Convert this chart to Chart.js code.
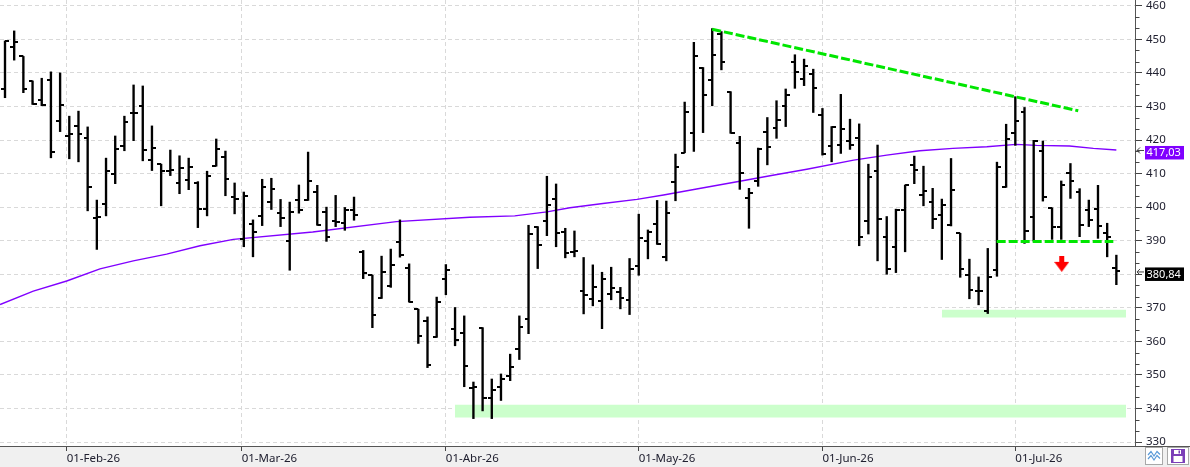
<!DOCTYPE html>
<html><head><meta charset="utf-8">
<script src="https://cdn.jsdelivr.net/npm/chart.js@4.4.1/dist/chart.umd.min.js"></script>
<style>html,body{margin:0;padding:0;background:#fff;overflow:hidden}canvas{display:block}</style>
</head><body>
<canvas id="c" width="1190" height="467"></canvas>
<script>
// ---- data (bar index = trading session) ----
const xTickPos = [6.72, 25.77, 48, 69, 89, 110];
const xTickLabels = ['01-Feb-26','01-Mar-26','01-Abr-26','01-May-26','01-Jun-26','01-Jul-26'];
const yTicks = [330,340,350,360,370,380,390,400,410,420,430,440,450,460];

const open = [435.1,447.6,444.9,437.6,431.9,438.0,425.6,421.2,424.2,420.7,
396.9,400.9,410.0,418.2,428.0,430.1,413.9,412.8,410.7,407.1,
408.2,407.2,399.4,412.2,414.9,402.9,390.6,394.9,397.3,401.5,
398.2,389.8,402.0,402.0,404.6,398.7,395.9,395.2,399.0,386.5,
379.7,373.0,376.4,389.5,382.0,369.6,366.0,361.2,378.5,363.6,
362.4,346.1,364.0,343.0,346.4,349.7,357.6,366.6,394.0,396.0,
402.3,392.7,386.5,374.9,372.5,371.9,374.0,374.6,372.2,382.4,
389.9,395.0,385.0,407.4,416.2,422.0,441.6,437.8,451.5,434.4,
419.0,402.6,407.7,422.3,423.6,430.1,443.3,438.2,439.6,427.4,
418.1,418.5,419.6,420.5,395.9,410.7,391.2,388.0,399.1,412.5,
403.6,401.4,397.8,394.8,392.2,379.9,375.1,369.0,381.2,405.9,
422.1,428.2,397.2,416.7,399.6,394.1,410.3,404.5,399.0,399.5,
392.2,381.8];
const high = [449.5,452.5,444.9,437.6,438.4,440.3,440.0,427.1,428.6,423.9,
402.1,414.6,421.2,427.1,436.4,436.1,424.2,412.8,417.0,415.3,
414.6,407.6,410.7,420.3,416.7,407.2,404.5,396.2,408.3,408.6,
402.3,401.5,406.6,416.4,406.5,400.0,403.5,399.9,403.0,387.1,
379.7,385.4,387.5,396.2,383.1,369.6,367.3,373.2,382.9,370.1,
367.6,347.9,364.1,348.8,350.3,356.2,367.6,394.6,394.2,409.2,
406.9,393.7,392.9,385.0,382.8,380.6,382.1,376.1,384.7,397.9,
393.2,402.0,401.8,415.8,431.3,449.1,441.6,453.2,452.3,434.4,
421.1,405.6,417.6,426.7,431.7,435.2,445.4,444.1,441.1,429.4,
424.0,433.6,426.2,424.8,412.8,418.5,397.2,399.4,406.6,415.2,
412.2,405.6,402.4,414.5,392.2,384.5,379.2,387.7,413.4,424.7,
432.9,429.7,419.9,419.7,399.8,407.8,413.0,405.5,402.1,406.5,
395.2,385.7];
const low = [432.6,443.8,434.1,430.6,430.2,414.7,422.5,414.4,413.5,398.9,
387.4,397.4,407.0,416.8,419.8,413.8,410.9,400.4,409.4,404.0,
405.2,393.9,397.4,412.2,403.4,398.0,388.2,385.2,394.5,399.3,
394.2,381.2,398.2,402.0,394.6,389.8,394.2,393.1,396.1,378.7,
364.1,372.8,376.1,385.1,371.7,359.4,352.2,361.2,373.9,358.7,
346.5,337.0,339.3,337.0,342.4,348.3,354.6,362.3,381.7,391.5,
388.2,384.9,385.2,368.2,370.6,363.8,372.4,369.7,368.0,379.7,
384.6,388.9,384.0,401.9,416.2,416.6,422.2,430.2,440.9,422.0,
405.3,393.7,406.2,412.6,420.5,424.0,435.4,436.2,428.2,415.5,
413.5,416.0,417.2,388.5,392.0,384.0,380.0,380.5,386.7,407.0,
400.4,393.6,384.4,394.4,379.1,372.7,370.9,368.3,379.4,405.9,
418.4,389.2,389.9,401.8,390.4,390.4,402.6,391.2,394.2,390.7,
385.2,376.9];
const close = [449.5,449.1,435.1,430.8,430.4,416.3,430.3,421.7,421.7,405.9,
397.0,410.9,417.2,425.4,428.0,416.9,417.6,410.7,411.2,411.6,
411.9,399.4,409.3,417.2,408.4,402.4,403.2,392.5,405.9,405.3,
396.8,398.5,399.0,407.7,394.8,391.0,395.7,399.0,397.8,380.3,
367.9,380.7,382.9,385.8,371.8,361.6,352.9,371.6,381.2,360.3,
352.6,346.4,343.0,345.4,348.7,352.3,364.2,391.9,388.6,400.6,
392.2,386.2,387.0,373.7,376.1,378.5,375.8,372.8,381.5,390.7,
392.5,389.1,398.4,412.0,428.2,444.9,433.3,445.3,443.1,422.0,
410.2,404.2,417.4,417.9,426.1,433.5,440.3,442.0,435.4,415.7,
423.8,423.3,418.5,391.1,408.9,396.4,381.6,399.1,406.6,411.2,
404.8,396.5,400.6,405.1,381.5,375.2,375.0,379.2,411.9,420.3,
425.6,392.8,419.8,403.1,394.2,406.6,407.8,394.6,396.1,394.5,
391.0,380.84];

// moving average readings (bar index, value)
const maIdx = [-0.54,3.08,6.72,10.34,13.97,17.6,21.23,24.86,33.5,42.6,50.6,55.5,59.0,61.5,65.1,68.8,71.7,75.3,80.0,83.6,87.3,92.4,96.0,99.6,103.2,106.9,110.1,112.3,115.9,118.5,121];
const maVal = [371.0,375.0,378.0,381.6,384.0,386.0,388.5,390.4,392.6,395.7,397.0,397.4,398.6,399.8,401.1,402.3,403.6,405.4,407.7,409.5,411.3,414.0,415.5,416.8,417.5,418.0,418.7,418.4,418.2,417.5,417.03];

// drawn annotations
const trendIdx = [77.0, 116.85];
const trendVal = [453.0, 428.7];
const supIdx = [107.97, 120.67];
const supVal = [389.8, 389.8];
const band1Idx = [48.99, 122.05];
const band1Lo = [337.3, 337.3];
const band1Hi = [341.1, 341.1];
const band2Idx = [102.0, 122.05];
const band2Lo = [367.1, 367.1];
const band2Hi = [369.4, 369.4];
const arrowPos = [115.05, 383.1];

const maLast = 417.03;
const lastClose = 380.84;

// ---- rendering ----
Chart.defaults.font.family = "'Noto Sans','DejaVu Sans',sans-serif";
const xMin = -0.544, xMax = 123.03, yMin = 328.84, yMax = 461.71;

function tickImg(side){
  const c=document.createElement('canvas'); c.width=8; c.height=2;
  const g=c.getContext('2d'); g.fillStyle='#000'; g.fillRect(side<0?0:4,0,4,2); return c;
}
const leftTick = tickImg(-1), rightTick = tickImg(1);
const arrowImg = (()=>{ const c=document.createElement('canvas'); c.width=15; c.height=16;
  const g=c.getContext('2d'); g.fillStyle='#ff0000'; g.fillRect(5,0,5,7);
  g.beginPath(); g.moveTo(0,6); g.lineTo(15,6); g.lineTo(7.5,16); g.closePath(); g.fill(); return c; })();

const pts = (xs, ys) => xs.map((x,i)=>({x, y: ys[i]}));
const fmt = v => v.toFixed(2).replace('.', ',');

const deco = {
  id:'deco',
  beforeDraw(chart){
    const {ctx, chartArea:a, width, height} = chart;
    ctx.save(); ctx.fillStyle='#f0f0f0'; ctx.fillRect(0, a.bottom, width, height-a.bottom); ctx.restore();
  },
  afterDraw(chart){
    const {ctx, chartArea:a, width, height} = chart; const ys = chart.scales.y;
    ctx.save();
    ctx.fillStyle='#f0f0f0'; ctx.fillRect(a.right+1, a.bottom, width-a.right, height-a.bottom);
    const by = Math.round(a.bottom)+0.5;
    ctx.strokeStyle='#555'; ctx.lineWidth=1;
    ctx.beginPath(); ctx.moveTo(0,by); ctx.lineTo(width,by); ctx.stroke();
    // minor ticks on value axis
    ctx.strokeStyle='#444';
    for (let k=0;k<=39;k++){
      if (k%3===0) continue;
      const v = 330 + k*10/3; const py = Math.round(ys.getPixelForValue(v))+0.5;
      ctx.beginPath(); ctx.moveTo(a.right, py); ctx.lineTo(a.right+4.5, py); ctx.stroke();
    }
    // price labels
    [[maLast,'#8000ff'],[lastClose,'#000000']].forEach(([v,bg])=>{
      const py = ys.getPixelForValue(v);
      ctx.strokeStyle='#444'; ctx.lineWidth=1;
      ctx.beginPath(); ctx.moveTo(a.right+9, py+0.5); ctx.lineTo(a.right+2, py+0.5);
      ctx.moveTo(a.right+5, py-2.5); ctx.lineTo(a.right+2, py+0.5); ctx.lineTo(a.right+5, py+3.5); ctx.stroke();
      ctx.fillStyle=bg; ctx.fillRect(a.right+10, py-4, 39, 13.5);
      ctx.fillStyle='#fff'; ctx.font="11px 'Noto Sans'"; ctx.textAlign='left'; ctx.textBaseline='middle';
      ctx.fillText(fmt(v), a.right+11.5, py+3);
    });
    // small toolbar buttons
    ctx.fillStyle='#fff'; ctx.strokeStyle='#a8a8a8';
    ctx.fillRect(1145.5,447.5,17,17); ctx.strokeRect(1145.5,447.5,17,17);
    ctx.fillRect(1167.5,447.5,21,17); ctx.strokeRect(1167.5,447.5,21,17);
    ctx.strokeStyle='#5a9ad8'; ctx.lineWidth=1.2;
    ctx.beginPath(); ctx.moveTo(1148,455); ctx.lineTo(1151,451.5); ctx.lineTo(1154,456); ctx.lineTo(1157,451.5); ctx.lineTo(1160,454.5); ctx.stroke();
    ctx.beginPath(); ctx.moveTo(1148,459); ctx.lineTo(1151,455.5); ctx.lineTo(1154,460); ctx.lineTo(1157,455.5); ctx.lineTo(1160,458.5); ctx.stroke();
    ctx.fillStyle='#7b3fb8'; ctx.fillRect(1171,449,14,14);
    ctx.fillStyle='#fff'; ctx.fillRect(1174,450,7,4); ctx.fillRect(1173.5,456,9,6);
    ctx.fillStyle='#7b3fb8'; ctx.fillRect(1178.5,450.5,1.5,3);
    ctx.restore();
  }
};

new Chart(document.getElementById('c'), {
  type:'bar',
  data:{ datasets:[
    {type:'line', label:'trend', data:pts(trendIdx,trendVal), borderColor:'#00e600', borderWidth:3, borderDash:[9,3], pointRadius:0, fill:false, order:1},
    {type:'line', label:'support', data:pts(supIdx,supVal), borderColor:'#00e600', borderWidth:3, borderDash:[9,3], pointRadius:0, fill:false, order:1},
    {type:'scatter', label:'arrow', data:[{x:arrowPos[0], y:arrowPos[1]}], pointStyle:arrowImg, pointRadius:1, order:0},
    {type:'scatter', label:'open', data:open.map((v,i)=>({x:i,y:v})), pointStyle:leftTick, pointRadius:1, order:2},
    {type:'scatter', label:'close', data:close.map((v,i)=>({x:i,y:v})), pointStyle:rightTick, pointRadius:1, order:2},
    {type:'bar', label:'range', data:low.map((l,i)=>({x:i, y:[l, high[i]]})), backgroundColor:'#000', borderWidth:0, barThickness:1.7, order:3},
    {type:'line', label:'MA', data:pts(maIdx,maVal), borderColor:'#8000ff', borderWidth:1.4, pointRadius:0, fill:false, tension:0, order:5},
    {type:'line', label:'b1hi', data:pts(band1Idx,band1Hi), borderWidth:0, pointRadius:0, fill:false, order:10},
    {type:'line', label:'b1lo', data:pts(band1Idx,band1Lo), borderWidth:0, pointRadius:0, backgroundColor:'#ccffcc', fill:'-1', order:10},
    {type:'line', label:'b2hi', data:pts(band2Idx,band2Hi), borderWidth:0, pointRadius:0, fill:false, order:10},
    {type:'line', label:'b2lo', data:pts(band2Idx,band2Lo), borderWidth:0, pointRadius:0, backgroundColor:'#ccffcc', fill:'-1', order:10}
  ]},
  options:{
    responsive:false, animation:false, events:[],
    layout:{padding:0, autoPadding:false},
    plugins:{legend:{display:false}, tooltip:{enabled:false}},
    scales:{
      x:{type:'linear', min:xMin, max:xMax, offset:false,
        afterBuildTicks:s=>{ s.ticks = xTickPos.map(v=>({value:v})); },
        afterFit:s=>{ s.height=21; s.paddingLeft=0; s.paddingRight=0; },
        ticks:{autoSkip:false, maxRotation:0, minRotation:0, align:'start', padding:1, color:'#202030', font:{size:11.5}, callback:(v,i)=>xTickLabels[i]},
        grid:{color:'#d9d9d9', tickColor:'#444', tickLength:5, offset:false},
        border:{display:true, color:'#555', dash:[4,3]}
      },
      y:{type:'linear', position:'right', min:yMin, max:yMax,
        afterBuildTicks:s=>{ s.ticks = yTicks.map(v=>({value:v})); },
        afterFit:s=>{ s.width=55; s.paddingTop=0; s.paddingBottom=0; },
        ticks:{padding:4, color:'#202030', font:{size:11.5}, callback:v=>String(v)},
        grid:{color:'#d9d9d9', tickColor:'#444', tickLength:7},
        border:{display:true, color:'#555', dash:[4,3]}
      }
    }
  },
  plugins:[deco]
});
</script>
</body></html>
